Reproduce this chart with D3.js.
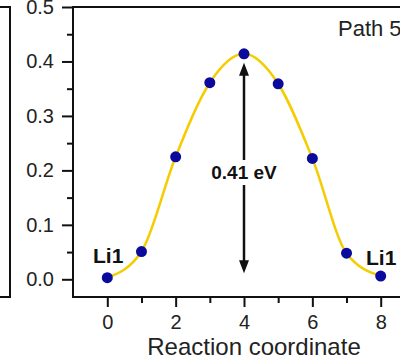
<!DOCTYPE html>
<html><head><meta charset="utf-8">
<script src="https://cdn.jsdelivr.net/npm/d3@7"></script>
<style>html,body{margin:0;padding:0;background:#fff;}svg{display:block;font-family:"Liberation Sans",Arial,sans-serif;}</style>
</head><body>
<svg id="c" width="400" height="364"></svg>
<script>
const coords = [0,1,2,3,4,5,6,7,8];
const energies = [0.003,0.051,0.225,0.361,0.414,0.359,0.222,0.048,0.006];
const xTicks = [0,2,4,6,8];
const yTicks = [0.0,0.1,0.2,0.3,0.4,0.5];
const barrierLabel = "0.41 eV";
const pathLabel = "Path 5";
const siteLabels = ["Li1","Li1"];
const xTitle = "Reaction coordinate";

const svg = d3.select("#c");
const x = d3.scaleLinear().domain([0,8]).range([107.3,380.7]);
const y = d3.scaleLinear().domain([0,0.5]).range([279.3,7]);
const frameL=73, frameB=297, frameT=7, frameR=420;
const ink="#111";

// partial neighbour panel on the left
svg.append("path").attr("d",`M0,${frameT}H10V${frameB}H0`).attr("fill","none").attr("stroke",ink).attr("stroke-width",2);

// frame
svg.append("rect").attr("x",frameL).attr("y",frameT).attr("width",frameR-frameL).attr("height",frameB-frameT)
  .attr("fill","none").attr("stroke",ink).attr("stroke-width",2);

// y axis
const yAx = svg.append("g").attr("transform",`translate(${frameL},0)`)
  .call(d3.axisLeft(y).tickValues(yTicks).tickFormat(d3.format(".1f")).tickSize(11).tickPadding(8));
yAx.select(".domain").remove();
yAx.selectAll("line").attr("stroke",ink).attr("stroke-width",2);
yAx.selectAll("text").attr("font-size",20).attr("fill","#222").attr("font-family","Liberation Sans, Arial, sans-serif");
const yMin = svg.append("g").attr("transform",`translate(${frameL},0)`)
  .call(d3.axisLeft(y).tickValues([0.05,0.15,0.25,0.35,0.45]).tickFormat("").tickSize(6));
yMin.select(".domain").remove();
yMin.selectAll("line").attr("stroke",ink).attr("stroke-width",2);

// x axis
const xAx = svg.append("g").attr("transform",`translate(0,${frameB})`)
  .call(d3.axisBottom(x).tickValues(xTicks).tickFormat(d3.format("d")).tickSize(10).tickPadding(8));
xAx.select(".domain").remove();
xAx.selectAll("line").attr("stroke",ink).attr("stroke-width",2);
xAx.selectAll("text").attr("font-size",20).attr("fill","#222").attr("font-family","Liberation Sans, Arial, sans-serif");
const xMin = svg.append("g").attr("transform",`translate(0,${frameB})`)
  .call(d3.axisBottom(x).tickValues([1,3,5,7]).tickFormat("").tickSize(6));
xMin.select(".domain").remove();
xMin.selectAll("line").attr("stroke",ink).attr("stroke-width",2);

svg.append("text").attr("x",254).attr("y",355).attr("text-anchor","middle")
  .attr("font-size",24).attr("fill","#222").text(xTitle);

// curve
const pts = coords.map((c,i)=>[c,energies[i]]);
svg.append("path").datum(pts)
  .attr("d",d3.line().x(d=>x(d[0])).y(d=>y(d[1])).curve(d3.curveMonotoneX))
  .attr("fill","none").attr("stroke","#f5cc00").attr("stroke-width",2.5);

// arrow
const ax = x(4), aTop = y(energies[4])+9, aBot = y(0)-6;
svg.append("line").attr("x1",ax).attr("x2",ax).attr("y1",aTop+10).attr("y2",aBot-10).attr("stroke",ink).attr("stroke-width",2.5);
svg.append("path").attr("d",`M${ax},${aTop}L${ax-5},${aTop+13}L${ax+5},${aTop+13}Z`).attr("fill",ink);
svg.append("path").attr("d",`M${ax},${aBot}L${ax-5},${aBot-13}L${ax+5},${aBot-13}Z`).attr("fill",ink);
svg.append("rect").attr("x",ax-40).attr("y",160).attr("width",80).attr("height",25).attr("fill","#fff");
svg.append("text").attr("x",ax).attr("y",179).attr("text-anchor","middle").attr("font-weight","bold")
  .attr("font-size",19).attr("fill","#111").text(barrierLabel);

// dots
svg.append("g").selectAll("circle").data(pts).join("circle")
  .attr("cx",d=>x(d[0])).attr("cy",d=>y(d[1])).attr("r",5.5).attr("fill","#0a0a9c");

// labels
svg.append("text").attr("x",93).attr("y",263).attr("font-weight","bold").attr("font-size",21).attr("fill","#111").text(siteLabels[0]);
svg.append("text").attr("x",366).attr("y",265).attr("font-weight","bold").attr("font-size",21).attr("fill","#111").text(siteLabels[1]);
svg.append("text").attr("x",338).attr("y",36).attr("font-size",22).attr("fill","#222").text(pathLabel);
</script>
</body></html>
